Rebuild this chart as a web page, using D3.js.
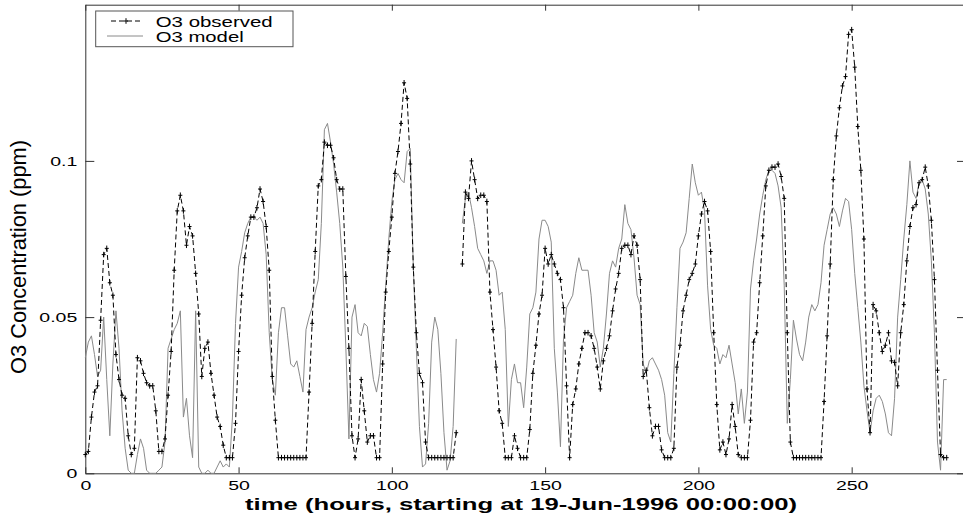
<!DOCTYPE html>
<html>
<head>
<meta charset="utf-8">
<script src="https://cdn.jsdelivr.net/npm/d3@7"></script>
<style>
  body { margin: 0; background: #fff; }
  svg { display: block; }
  text { font-family: "Liberation Sans", Arial, Helvetica, sans-serif; fill: #000; }
</style>
</head>
<body>
<script>
// hourly values, index = hours since 19-Jun-1996 00:00 (null = no data)
var observed = [
  0.006, 0.007, 0.018, 0.026, 0.028, 0.049, 0.070, 0.072, 0.061, 0.057,
  0.038, 0.030, 0.025, 0.024, 0.012, 0.006, 0.008, 0.037, 0.036, 0.032,
  0.029, 0.028, 0.028, 0.020, 0.007, 0.007, 0.011, 0.025, 0.039, 0.065,
  0.084, 0.089, 0.084, 0.073, 0.079, 0.076, 0.064, 0.051, 0.031, 0.040,
  0.042, 0.032, 0.025, 0.018, 0.015, 0.009, 0.005, 0.005, 0.005, 0.016,
  0.039, 0.057, 0.069, 0.076, 0.082, 0.082, 0.085, 0.091, 0.087, 0.079,
  0.065, 0.031, 0.017, 0.005, 0.005, 0.005, 0.005, 0.005, 0.005, 0.005,
  0.005, 0.005, 0.005, 0.026, 0.048, 0.071, 0.092, 0.094, 0.106, 0.105,
  0.105, 0.101, 0.094, 0.091, 0.091, 0.063, 0.040, 0.012, 0.005, 0.011,
  0.030, 0.020, 0.010, 0.012, 0.012, 0.005, 0.005, 0.035, 0.058, 0.071,
  0.082, 0.096, 0.103, 0.112, 0.125, 0.120, 0.099, 0.066, 0.045, 0.032,
  0.029, 0.010, 0.005, 0.005, 0.005, 0.005, 0.005, 0.005, 0.005, 0.005,
  0.005, 0.013, null,  0.067, 0.090, 0.088, 0.100, 0.094, 0.088, 0.089,
  0.089, 0.087, 0.058, 0.046, 0.034, 0.020, 0.016, 0.005, 0.005, 0.005,
  0.012, 0.008, 0.005, 0.005, 0.005, 0.014, 0.032, 0.041, 0.051, 0.057,
  0.072, 0.067, 0.070, 0.067, 0.064, 0.062, 0.053, 0.028, 0.005, 0.022,
  0.027, 0.035, 0.040, 0.045, 0.045, 0.044, 0.040, 0.034, 0.027, 0.036,
  0.040, 0.044, 0.052, 0.059, 0.064, 0.072, 0.073, 0.073, 0.070, 0.076,
  0.073, 0.062, 0.031, 0.033, 0.021, 0.012, 0.015, 0.015, 0.0075, 0.005,
  0.005, 0.005, 0.008, 0.034, 0.041, 0.052, 0.057, 0.062, 0.064, 0.067,
  0.076, 0.083, 0.087, 0.084, 0.071, 0.045, 0.022, 0.0075, 0.010, 0.006,
  0.011, 0.022, 0.015, 0.006, 0.005, 0.005, 0.005, 0.017, 0.042, 0.045,
  0.061, 0.076, 0.092, 0.097, 0.098, 0.098, 0.099, 0.095, 0.088, 0.045,
  0.010, 0.005, 0.005, 0.005, 0.005, 0.005, 0.005, 0.005, 0.005, 0.005,
  0.005, 0.023, 0.044, 0.067, 0.094, 0.108, 0.117, 0.124, 0.127, 0.1405,
  0.142, 0.130, 0.111, 0.097, 0.075, 0.027, 0.013, 0.054, 0.052, 0.045,
  0.039, 0.041, 0.045, 0.036, 0.0355, 0.028, 0.045, 0.054, 0.068, 0.079,
  0.085, 0.086, 0.093, 0.094, 0.098, 0.092, 0.081, 0.062, 0.033, 0.006,
  0.005, 0.005
];

var model = [
  0.037, 0.042, 0.044, 0.038, 0.031, 0.033, 0.050, 0.030, 0.012, 0.035,
  0.052, 0.040, 0.020, 0.008, 0.001, 0.000, 0.000, 0.006, 0.011, 0.008,
  0.001, 0.000, 0.000, 0.000, 0.001, 0.002, 0.010, 0.040, 0.043, 0.046,
  0.048, 0.052, 0.018, 0.024, 0.012, 0.005, 0.052, 0.002, 0.000, 0.000,
  0.001, 0.000, 0.000, 0.002, 0.004, 0.002, 0.003, 0.002, 0.018, 0.048,
  0.066, 0.071, 0.077, 0.080, 0.082, 0.082, 0.081, 0.082, 0.080, 0.070,
  0.045, 0.030, 0.025, 0.045, 0.053, 0.053, 0.044, 0.035, 0.034, 0.036,
  0.031, 0.026, 0.046, 0.050, 0.053, 0.058, 0.062, 0.080, 0.110, 0.112,
  0.106, 0.099, 0.090, 0.080, 0.066, 0.040, 0.011, 0.050, 0.054, 0.045,
  0.044, 0.048, 0.047, 0.038, 0.030, 0.026, 0.032, 0.045, 0.060, 0.075,
  0.087, 0.094, 0.096, 0.094, 0.093, 0.103, 0.104, 0.066, 0.040, 0.015,
  0.002, 0.003, 0.016, 0.042, 0.050, 0.046, 0.032, 0.013, 0.001, 0.004,
  0.015, 0.043, null,  0.080, 0.088, 0.090, 0.085, 0.079, 0.072, 0.070,
  0.068, 0.064, 0.068, 0.068, 0.065, 0.057, 0.058, 0.046, 0.015, 0.030,
  0.035, 0.029, 0.029, 0.021, 0.034, 0.051, 0.053, 0.058, 0.075, 0.081,
  0.081, 0.079, 0.074, 0.040, 0.026, 0.0085, 0.043, 0.053, 0.055, 0.057,
  0.064, 0.069, 0.065, 0.065, 0.065, 0.057, 0.045, 0.042, 0.034, 0.040,
  0.051, 0.064, 0.068, 0.066, 0.072, 0.075, 0.086, 0.080, 0.078, 0.069,
  0.057, 0.054, 0.035, 0.032, 0.036, 0.037, 0.035, 0.033, 0.030, 0.025,
  0.013, 0.010, 0.032, 0.053, 0.072, 0.074, 0.077, 0.088, 0.099, 0.093,
  0.089, 0.090, 0.084, 0.060, 0.046, 0.041, 0.040, 0.035, 0.038, 0.037,
  0.041, 0.035, 0.029, 0.019, 0.027, 0.016, 0.026, 0.059, 0.068, 0.075,
  0.083, 0.089, 0.094, 0.097, 0.097, 0.096, 0.092, 0.085, 0.060, 0.016,
  0.030, 0.049, 0.043, 0.038, 0.036, 0.042, 0.050, 0.054, 0.052, 0.054,
  0.061, 0.073, 0.078, 0.083, 0.085, 0.083, 0.079, 0.084, 0.088, 0.087,
  0.078, 0.064, 0.053, 0.042, 0.028, 0.020, 0.013, 0.020, 0.024, 0.025,
  0.023, 0.019, 0.013, 0.012, 0.024, 0.050, 0.062, 0.075, 0.086, 0.100,
  0.090, 0.088, 0.093, 0.094, 0.091, 0.083, 0.068, 0.045, 0.010, 0.001,
  0.030, 0.030
];

var xTicks = [0, 50, 100, 150, 200, 250];
var yTicks = [0, 0.05, 0.1];
var yTickLabels = ['0', '0.05', '0.1'];
var legendLabels = ['O3 observed', 'O3 model'];
var xTitle = 'time (hours, starting at 19-Jun-1996 00:00:00)';
var yTitle = 'O3 Concentration (ppm)';

var initialize = function(){
  var screen = { width: 963, height: 523 };
  var plot = { left: 85.3, right: 966, top: 4.7, bottom: 473.3 };
  var stretch = 1.5;   // the original picture is widened horizontally

  var svg = d3.select('body')
              .append('svg')
              .attr('width', screen.width)
              .attr('height', screen.height);

  var xScale = d3.scaleLinear()
                 .domain([0, 287.3])
                 .range([plot.left, plot.right]);
  var yScale = d3.scaleLinear()
                 .domain([0, 0.15])
                 .range([plot.bottom, plot.top]);

  // AXES BOX //
  var axisColor = '#333';
  var bottomAxis = svg.append('g')
     .attr('transform', 'translate(0,' + plot.bottom + ')')
     .call(d3.axisBottom(xScale).tickValues(xTicks).tickSize(-6).tickSizeOuter(0)
             .tickPadding(7).tickFormat(d3.format('d')));
  svg.append('g')
     .attr('transform', 'translate(0,' + plot.top + ')')
     .call(d3.axisTop(xScale).tickValues(xTicks).tickSize(-6).tickSizeOuter(0).tickFormat(''));
  var leftAxis = svg.append('g')
     .attr('transform', 'translate(' + plot.left + ',0)')
     .call(d3.axisLeft(yScale).tickValues(yTicks).tickSize(-9).tickSizeOuter(0)
             .tickFormat(function(d, i){ return yTickLabels[i]; }));
  svg.append('g')
     .attr('transform', 'translate(' + plot.right + ',0)')
     .call(d3.axisRight(yScale).tickValues(yTicks).tickSize(-9).tickSizeOuter(0).tickFormat(''));

  svg.selectAll('.domain, .tick line').attr('stroke', axisColor);
  bottomAxis.selectAll('text')
     .attr('font-size', 13)
     .attr('transform', 'scale(' + stretch + ',1)');
  leftAxis.selectAll('text')
     .attr('font-size', 13)
     .attr('x', -8 / stretch)
     .attr('transform', 'scale(' + stretch + ',1)');

  // CURVES //
  var drawLine = d3.line()
                   .defined(function(d){ return d != null; })
                   .x(function(d, i){ return xScale(i); })
                   .y(function(d){ return yScale(d); });

  svg.append('path')
     .datum(model)
     .attr('d', drawLine)
     .attr('fill', 'none')
     .attr('stroke', '#8a8a8a')
     .attr('stroke-width', 1);

  svg.append('path')
     .datum(observed)
     .attr('d', drawLine)
     .attr('fill', 'none')
     .attr('stroke', '#000')
     .attr('stroke-width', 1)
     .attr('stroke-dasharray', '5,3');

  var plus = 'M-2,0H2M0,-2.8V2.8';
  svg.append('g')
     .selectAll('path')
     .data(observed.map(function(v, i){ return [i, v]; })
                   .filter(function(d){ return d[1] != null; }))
     .enter()
     .append('path')
     .attr('d', plus)
     .attr('transform', function(d){
       return 'translate(' + xScale(d[0]) + ',' + yScale(d[1]) + ')';
     })
     .attr('stroke', '#000')
     .attr('stroke-width', 1);

  // TITLES //
  svg.append('text')
     .attr('transform', 'translate(521,510) scale(' + stretch + ',1)')
     .attr('text-anchor', 'middle')
     .attr('font-size', 17)
     .attr('font-weight', 'bold')
     .attr('textLength', 552 / stretch)
     .attr('lengthAdjust', 'spacingAndGlyphs')
     .text(xTitle);

  svg.append('text')
     .attr('transform', 'translate(26,257) rotate(-90) scale(1,' + stretch + ')')
     .attr('text-anchor', 'middle')
     .attr('font-size', 15)
     .attr('textLength', 234)
     .attr('lengthAdjust', 'spacingAndGlyphs')
     .text(yTitle);

  // LEGEND //
  var legend = svg.append('g').classed('legend', true);
  legend.append('rect')
        .attr('x', 95.7).attr('y', 11)
        .attr('width', 197.3).attr('height', 35.7)
        .attr('fill', '#fff')
        .attr('stroke', '#555');
  var rows = [21, 36];
  legend.append('line')
        .attr('x1', 111).attr('x2', 143).attr('y1', rows[0]).attr('y2', rows[0])
        .attr('stroke', '#000').attr('stroke-dasharray', '5,3');
  legend.append('path')
        .attr('d', plus)
        .attr('transform', 'translate(126,' + rows[0] + ')')
        .attr('stroke', '#000').attr('stroke-width', 1);
  legend.append('line')
        .attr('x1', 107).attr('x2', 143).attr('y1', rows[1]).attr('y2', rows[1])
        .attr('stroke', '#8a8a8a');
  legend.selectAll('text')
        .data(legendLabels)
        .enter()
        .append('text')
        .attr('transform', function(d, i){
          return 'translate(155.7,' + (rows[i] + 5.5) + ') scale(' + stretch + ',1)';
        })
        .attr('font-size', 14)
        .attr('textLength', function(d, i){ return (i == 0 ? 117 : 88) / stretch; })
        .attr('lengthAdjust', 'spacingAndGlyphs')
        .text(function(d){ return d; });
}

initialize();
</script>
</body>
</html>
